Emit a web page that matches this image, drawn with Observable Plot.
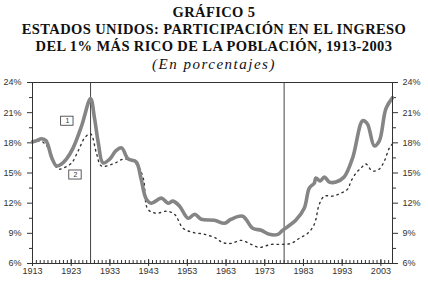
<!DOCTYPE html>
<html><head><meta charset="utf-8">
<script src="https://cdn.jsdelivr.net/npm/d3@7"></script>
<script src="https://cdn.jsdelivr.net/npm/@observablehq/plot@0.6"></script>
<style>
body{margin:0;background:#fff;}
#wrap{position:relative;width:428px;height:283px;overflow:hidden;}
.t{position:absolute;left:0;width:428px;text-align:center;font-family:"Liberation Serif","Times New Roman",serif;color:#111;white-space:nowrap;}
.b{font-weight:bold;font-size:14.5px;letter-spacing:0.4px;line-height:16px;height:16px;}
.s{font-style:italic;font-size:15px;letter-spacing:1.5px;line-height:16px;height:16px;}
#chart{position:absolute;left:0;top:72px;}
</style></head><body>
<div id="wrap">
<div class="t b" style="top:4px">GRÁFICO 5</div>
<div class="t b" style="top:21px">ESTADOS UNIDOS: PARTICIPACIÓN EN EL INGRESO</div>
<div class="t b" style="top:38px">DEL 1% MÁS RICO DE LA POBLACIÓN, 1913-2003</div>
<div class="t s" style="top:55.5px">(En porcentajes)</div>
<div id="chart"></div>
</div>
<script>
const years1 = [1913,1914,1915.4,1916.5,1918,1919.2,1920.5,1921.8,1923.5,1925.7,1928,1929,1930,1931.2,1933,1934.5,1936,1937.7,1939.8,1941,1942.4,1943.7,1946.3,1948,1949.3,1951,1953.2,1954.9,1956.6,1960,1962.6,1964.3,1967.3,1969.9,1972.1,1974.2,1976.4,1977.6,1981,1983.2,1984.5,1985.8,1986.2,1987.3,1988.4,1989.7,1991.4,1993.5,1995.7,1998.3,1999.5,2001.3,2002.6,2004.3,2006];
const share1 = [18.1,18.2,18.4,18.2,16.5,15.7,15.9,16.4,17.5,19.7,22.4,20.5,18.0,16.0,16.4,17.2,17.5,16.4,16.1,14.5,12.4,12.0,12.5,12.0,12.2,11.7,10.5,10.9,10.4,10.3,10.0,10.4,10.7,9.5,9.3,8.9,8.9,9.3,10.3,11.5,13.5,14.0,14.5,14.2,14.6,14.1,14.1,14.6,16.5,20.2,19.9,17.7,18.2,21.4,22.5];
const years2 = [1913,1915,1917.1,1919.6,1921,1923.1,1924.8,1926.5,1928,1929.5,1930.8,1933.8,1936.8,1939.8,1941.6,1942.8,1945,1947.6,1949.7,1951.9,1954.4,1957.5,1960.5,1962,1964.3,1966.9,1969.5,1971.6,1974.6,1977.2,1979.8,1981.9,1984.1,1985.8,1987.1,1988.4,1990.5,1992.7,1994.4,1995.3,1996.6,1997.9,1999.1,2000.8,2002.6,2003.9,2005.2,2006];
const share2 = [18.0,18.2,17.5,15.4,15.5,16.0,17.2,18.5,18.9,17.0,15.7,15.9,16.4,15.9,14.5,11.4,11.0,11.2,10.9,9.5,9.1,8.9,8.5,8.1,8.0,8.3,7.9,7.6,7.9,7.9,8.0,8.5,9.0,9.9,11.9,12.7,12.7,13.0,13.4,14.2,15.0,15.5,15.9,15.2,15.4,16.2,17.5,17.9];
const yTicks = [6,9,12,15,18,21,24];
const yMinorTicks = [7.5,10.5,13.5,16.5,19.5,22.5];
const xTickYears = [1913,1923,1933,1943,1953,1963,1973,1983,1993,2003];
const xMinorYears = d3.range(1913,2006);
const markerYears = [1928,1978];
const seriesLabels = ["1","2"];
const labelYears = [1922,1924.1];
const labelShares = [20.15,14.8];

const s1 = years1.map((y,i)=>({year:y, v:share1[i]}));
const s2 = years2.map((y,i)=>({year:y, v:share2[i]}));
const labs = seriesLabels.map((t,i)=>({t, year:labelYears[i], v:labelShares[i]}));
const pct = d=>d+"%";

const plot = Plot.plot({
  width:428, height:211,
  marginTop:10, marginBottom:20, marginLeft:32, marginRight:36,
  style:{fontFamily:"'Liberation Sans',Arial,sans-serif", fontSize:"9px", color:"#333", background:"white"},
  x:{domain:[1913,2006], label:null},
  y:{domain:[6,24], label:null},
  marks:[
    Plot.axisX({ticks:xMinorYears, tickSize:-3, text:null, label:null, stroke:"#333"}),
    Plot.axisX({ticks:xTickYears, tickSize:-4, text:null, label:null, stroke:"#333"}),
    Plot.axisX({ticks:xTickYears, tickSize:3, tickPadding:1, tickFormat:d=>String(d), label:null, stroke:"#333", fill:"#333"}),
    Plot.axisY({anchor:"left", ticks:yTicks, tickSize:5, tickPadding:6, tickFormat:pct, label:null, stroke:"#333", fill:"#333"}),
    Plot.axisY({anchor:"left", ticks:yMinorTicks, tickSize:3, text:null, label:null, stroke:"#333"}),
    Plot.axisY({anchor:"right", ticks:yTicks, tickSize:5, tickPadding:5, tickFormat:pct, label:null, stroke:"#333", fill:"#333"}),
    Plot.axisY({anchor:"right", ticks:yMinorTicks, tickSize:3, text:null, label:null, stroke:"#333"}),
    Plot.ruleX(markerYears, {stroke:"#444", strokeWidth:1}),
    Plot.line(s2, {x:"year", y:"v", stroke:"#333", strokeWidth:1.4, strokeDasharray:"1.5,4", curve:"catmull-rom"}),
    Plot.line(s1, {x:"year", y:"v", stroke:"#858585", strokeWidth:3.6, curve:"catmull-rom", strokeLinejoin:"round"}),
    Plot.rect(labs, {x1:d=>d.year-1.6, x2:d=>d.year+1.6, y1:d=>d.v-0.45, y2:d=>d.v+0.45, fill:"white", stroke:"#333", strokeWidth:0.8}),
    Plot.text(labs, {x:"year", y:"v", text:"t", fontSize:7, fill:"#333"}),
    Plot.frame({stroke:"#333", strokeWidth:1})
  ]
});
document.getElementById("chart").appendChild(plot);
</script>
</body></html>
